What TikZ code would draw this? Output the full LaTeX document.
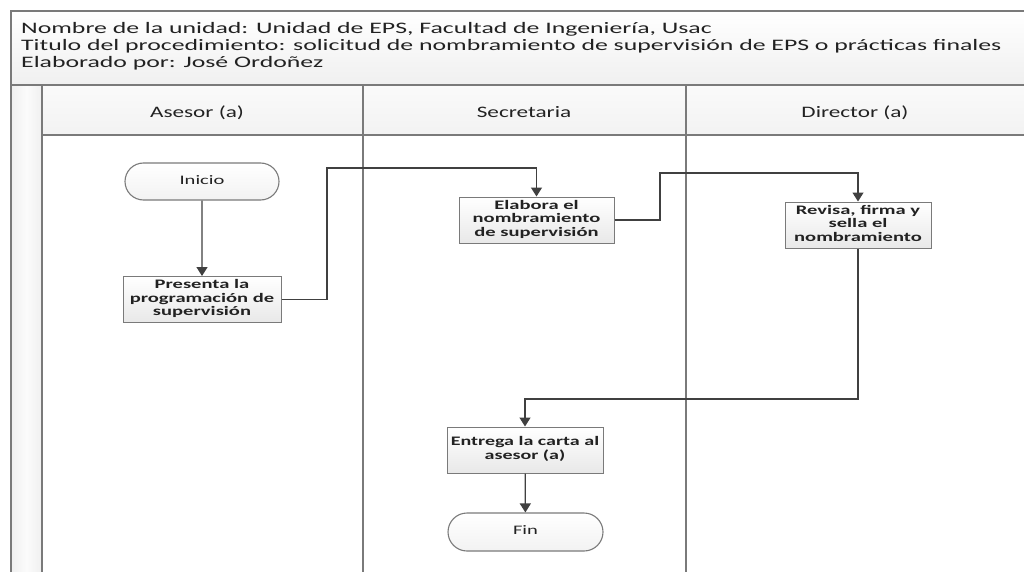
\documentclass[tikz,border=0pt]{standalone}
\usepackage{fontspec}
\setmainfont{Carlito}
\usetikzlibrary{arrows.meta,shapes.misc}
\definecolor{bordergray}{HTML}{7A7A7A}
\definecolor{linegray}{HTML}{404040}
\definecolor{txt}{HTML}{222222}
\newcommand{\sx}[2][1.5]{\scalebox{#1}[1]{\begin{tabular}{@{}c@{}}#2\end{tabular}}}
\begin{document}
\begin{tikzpicture}[x=1pt,y=-1pt,
  procbox/.style={draw=bordergray, line width=1pt, top color=white, bottom color=gray!18,
    minimum height=46pt, inner sep=0pt, font=\fontsize{13}{13.5}\selectfont\bfseries, text=txt},
  term/.style={rounded rectangle, draw=bordergray, line width=1.1pt, top color=white, bottom color=gray!10,
    minimum width=154pt, minimum height=37pt, inner sep=0pt, font=\fontsize{13}{13.5}\selectfont, text=txt},
  conn/.style={draw=linegray, line width=1.3pt},
  arr/.style={conn, -{Triangle[width=11pt,length=9pt]}},
  lane/.style={draw=bordergray, line width=1.4pt},
  titletxt/.style={anchor=base west, inner sep=0pt, text=txt, font=\fontsize{16}{17}\selectfont},
  lanetxt/.style={anchor=base, inner sep=0pt, text=txt, font=\fontsize{16}{17}\selectfont}]
\useasboundingbox (0,0) rectangle (1024,572);
\fill[white] (0,0) rectangle (1024,572);
% title area
\shade[top color=white, bottom color=gray!12] (11,11) rectangle (1024,85);
% lane header band
\shade[top color=gray!4, bottom color=gray!10] (42,85) rectangle (1024,135);
% left strip
\shade[left color=gray!12, right color=gray!12, middle color=gray!3] (11,85) rectangle (42,572);
% borders
\draw[lane] (1024,11) -- (11,11) -- (11,572);
\draw[lane] (11,85) -- (1024,85);
\draw[lane] (42,135) -- (1024,135);
\draw[lane] (42,85) -- (42,572);
\draw[lane] (363,85) -- (363,572);
\draw[lane] (686,85) -- (686,572);
% title texts
\node[titletxt] (t1) at (21,34) {\sx[1.61]{Nombre de la unidad: Unidad de EPS, Facultad de Ingeniería, Usac}};
\node[titletxt] (t2) at (21,51) {\sx[1.61]{Titulo del procedimiento: solicitud de nombramiento de supervisión de EPS o prácticas finales}};
\node[titletxt] (t3) at (21,68) {\sx[1.61]{Elaborado por: José Ordoñez}};
% lane headers
\node[lanetxt] (h1) at (197,118) {\sx[1.45]{Asesor (a)}};
\node[lanetxt] (h2) at (524,118) {\sx[1.45]{Secretaria}};
\node[lanetxt] (h3) at (855,118) {\sx[1.45]{Director (a)}};
% nodes
\node[term] (inicio) at (202,181.5) {\sx[1.58]{Inicio}};
\node[procbox, minimum width=158pt, minimum height=46pt] (presenta) at (202,299.5) {\sx[1.58]{Presenta la\\programación de\\supervisión}};
\node[procbox, minimum width=155pt] (elabora) at (536.5,220) {\sx[1.58]{Elabora el\\nombramiento\\de supervisión}};
\node[procbox, minimum width=146pt] (revisa) at (858,225) {\sx[1.58]{Revisa, firma y\\sella el\\nombramiento}};
\node[procbox, minimum width=156pt] (entrega) at (525,450) {\sx[1.54]{Entrega la carta al\\asesor (a)}};
\node[term, minimum width=155pt, minimum height=38pt] (fin) at (525.5,532) {\sx[1.58]{Fin}};
% connectors
\coordinate (c1) at (327,168);
\coordinate (c2) at (660,173);
\coordinate (c3) at (858,399);
\draw[arr] (inicio) -- (presenta);
\draw[arr] (presenta.east) -| (c1) -| (elabora.north);
\draw[arr] (elabora.east) -| (c2) -| (revisa.north);
\draw[arr] (revisa.south) -- (c3) -| (entrega.north);
\draw[arr] (entrega) -- (fin);
\end{tikzpicture}
\end{document}
